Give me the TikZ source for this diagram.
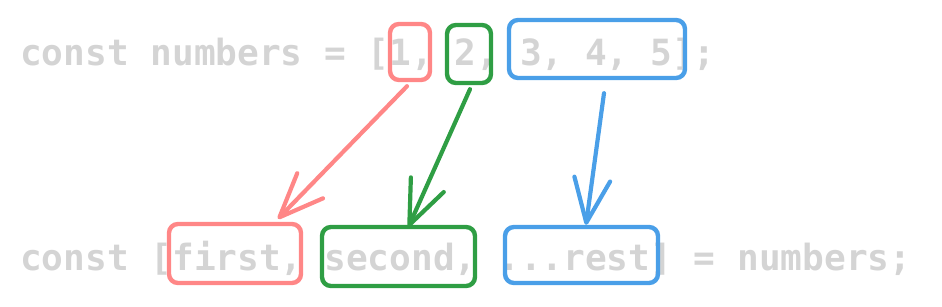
\documentclass[tikz,border=0pt]{standalone}
\usepackage{fontspec}
\setmonofont{DejaVu Sans Mono}
\usetikzlibrary{arrows.meta,positioning}
\definecolor{codegray}{HTML}{D4D4D4}
\definecolor{pickred}{HTML}{FF8787}
\definecolor{pickgreen}{HTML}{2F9E44}
\definecolor{pickblue}{HTML}{4A9FE8}
\tikzset{
  codeline/.style={
    anchor=base west,
    inner sep=0pt,
    text=codegray,
    font=\fontsize{36.1}{40}\selectfont\ttfamily\bfseries
  },
  pickbox/.style={
    rounded corners=9pt,
    line width=4.4pt,
    inner sep=0pt,
    draw=#1
  },
  pickarrow/.style={
    -{Straight Barb[length=44pt,width=36pt,round]},
    line width=4.2pt,
    line cap=round,
    draw=#1
  }
}

\begin{document}
\begin{tikzpicture}[x=1pt,y=-1pt]
\useasboundingbox (0,0) rectangle (942,307);
\node[codeline] (src) at (20,66) {const numbers = [1, 2, 3, 4, 5];};
\node[codeline] (dst) at (20,270) {const [first, second, ...rest] = numbers;};

\node[pickbox=pickred, minimum width=40pt, minimum height=56pt] (one) at (410,52) {};
\node[pickbox=pickgreen, minimum width=44pt, minimum height=58pt] (two) at (469,54) {};
\node[pickbox=pickblue, minimum width=176pt, minimum height=58pt] (tail) at (597,49) {};

\node[pickbox=pickred, minimum width=132pt, minimum height=59pt] (first) at (235,253.5) {};
\node[pickbox=pickgreen, minimum width=153pt, minimum height=59pt] (second) at (398.5,256.5) {};
\node[pickbox=pickblue, minimum width=153pt, minimum height=56pt] (rest) at (581.5,255) {};

\draw[pickarrow=pickred] ([shift={(-3pt,-4pt)}]one.south) -- ([shift={(43pt,3pt)}]first.north);
\draw[pickarrow=pickgreen] ([shift={(1pt,-4pt)}]two.south) -- ([shift={(10pt,-2pt)}]second.north);
\draw[pickarrow=pickblue] ([shift={(7pt,-13pt)}]tail.south) -- ([shift={(4.5pt,0pt)}]rest.north);
\end{tikzpicture}
\end{document}
